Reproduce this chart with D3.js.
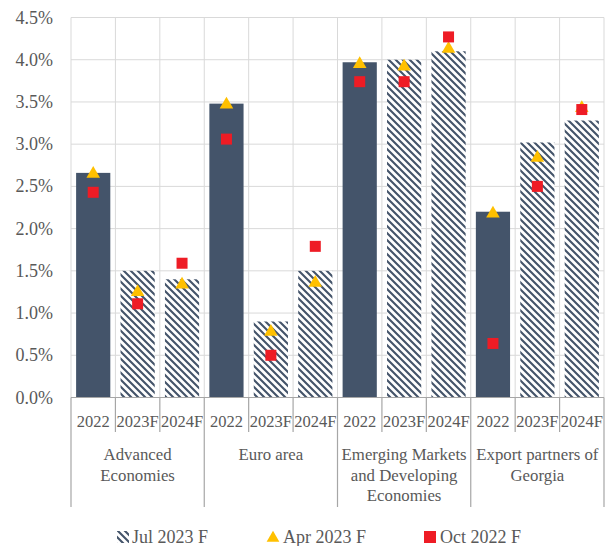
<!DOCTYPE html>
<html>
<head>
<meta charset="utf-8">
<script src="https://cdn.jsdelivr.net/npm/d3@7"></script>
<style>
  html, body { margin: 0; padding: 0; background: #fff; }
  svg { display: block; }
  text { font-family: "Liberation Serif", "Times New Roman", serif; fill: #595959; }
</style>
</head>
<body>
<svg id="chart" width="609" height="546"></svg>
<script>
// ---- data ----
const groups = [
  ["Advanced", "Economies"],
  ["Euro area"],
  ["Emerging Markets", "and Developing", "Economies"],
  ["Export partners of", "Georgia"]
];
const years = ["2022", "2023F", "2024F"];
const jul2023 = [2.66, 1.50, 1.40, 3.48, 0.90, 1.50, 3.97, 4.00, 4.10, 2.20, 3.02, 3.28];
const apr2023 = [2.66, 1.26, 1.35, 3.48, 0.79, 1.37, 3.96, 3.93, 4.14, 2.19, 2.85, 3.44];
const oct2022 = [2.43, 1.11, 1.59, 3.06, 0.50, 1.79, 3.74, 3.74, 4.27, 0.64, 2.50, 3.41];
const yTicks = [0, 0.5, 1.0, 1.5, 2.0, 2.5, 3.0, 3.5, 4.0, 4.5];
const legendLabels = ["Jul 2023 F", "Apr 2023 F", "Oct 2022 F"];

// ---- layout ----
const svg = d3.select("#chart");
const pLeft = 71, pRight = 604, pTop = 17.5, pBottom = 397.5;
const barColor = "#44546a", triColor = "#FFC000", sqColor = "#EE1C25";
const gridColor = "#d9d9d9", axisColor = "#a6a6a6";

const slots = [];
groups.forEach((g, gi) => years.forEach((yr, yi) => slots.push({gi, yi, key: gi + "-" + yi, year: yr})));

const x = d3.scaleBand().domain(slots.map(d => d.key)).range([pLeft, pRight]).padding(0);
const y = d3.scaleLinear().domain([0, 4.5]).range([pBottom, pTop]);
const bw = x.bandwidth() * 0.77;

// pattern
const P = 7;
const defs = svg.append("defs");
const pat = defs.append("pattern").attr("id", "hatch").attr("patternUnits", "userSpaceOnUse")
  .attr("width", P).attr("height", P);
pat.append("rect").attr("width", P).attr("height", P).attr("fill", "#fff");
pat.append("path").attr("d", `M-1,-1 L${P+1},${P+1} M${-P-1},-1 L1,${P+1} M${P-1},-1 L${2*P+1},${P+1}`)
  .attr("stroke", barColor).attr("stroke-width", 2.1);

// gridlines
svg.append("g").selectAll("line").data(yTicks).join("line")
  .attr("x1", pLeft).attr("x2", pRight).attr("y1", d => y(d)).attr("y2", d => y(d))
  .attr("stroke", gridColor).attr("stroke-width", 1);
const vLines = slots.map(d => x(d.key)).concat([pRight]);
svg.append("g").selectAll("line").data(vLines).join("line")
  .attr("x1", d => d).attr("x2", d => d).attr("y1", pTop).attr("y2", pBottom)
  .attr("stroke", gridColor).attr("stroke-width", 1);

// y axis labels
svg.append("g").selectAll("text").data(yTicks).join("text")
  .attr("x", 53).attr("y", d => y(d) + 6)
  .attr("text-anchor", "end").attr("font-size", 18)
  .text(d => d.toFixed(1) + "%");

// bars
svg.append("g").selectAll("rect").data(slots).join("rect")
  .attr("x", d => x(d.key) + (x.bandwidth() - bw) / 2)
  .attr("width", bw)
  .attr("y", (d, i) => y(jul2023[i]))
  .attr("height", (d, i) => y(0) - y(jul2023[i]))
  .attr("fill", d => d.yi === 0 ? barColor : "url(#hatch)");

// triangles
const tri = d3.symbol().type(d3.symbolTriangle).size(80);
svg.append("g").selectAll("path").data(slots).join("path")
  .attr("d", tri)
  .attr("transform", (d, i) => `translate(${x(d.key) + x.bandwidth() / 2},${y(apr2023[i]) + 1})`)
  .attr("fill", triColor);

// squares
const sq = 11;
svg.append("g").selectAll("rect").data(slots).join("rect")
  .attr("x", d => x(d.key) + x.bandwidth() / 2 - sq / 2)
  .attr("y", (d, i) => y(oct2022[i]) - sq / 2)
  .attr("width", sq).attr("height", sq)
  .attr("fill", sqColor);

// category axis
const ax = svg.append("g");
ax.append("line").attr("x1", pLeft).attr("x2", pRight).attr("y1", pBottom).attr("y2", pBottom)
  .attr("stroke", axisColor).attr("stroke-width", 1.2);
slots.forEach(d => {
  const xl = x(d.key);
  const long = d.yi === 0;
  ax.append("line").attr("x1", xl).attr("x2", xl).attr("y1", pBottom).attr("y2", long ? 507 : 432)
    .attr("stroke", axisColor).attr("stroke-width", 1.2);
  ax.append("text").attr("x", xl + x.bandwidth() / 2).attr("y", 426.5)
    .attr("text-anchor", "middle").attr("font-size", 16.5).text(d.year);
});
ax.append("line").attr("x1", pRight).attr("x2", pRight).attr("y1", pBottom).attr("y2", 507)
  .attr("stroke", axisColor).attr("stroke-width", 1.2);
groups.forEach((g, gi) => {
  const cx = x(gi + "-1") + x.bandwidth() / 2;
  g.forEach((line, li) => {
    ax.append("text").attr("x", cx).attr("y", 460 + li * 20.5)
      .attr("text-anchor", "middle").attr("font-size", 16.8).text(line);
  });
});

// legend
const lg = svg.append("g");
const ly = 537;
lg.append("rect").attr("x", 117).attr("y", ly - 6).attr("width", 12).attr("height", 12).attr("fill", "url(#hatch)");
lg.append("text").attr("x", 132).attr("y", ly + 6).attr("font-size", 18).text(legendLabels[0]);
lg.append("path").attr("d", d3.symbol().type(d3.symbolTriangle).size(70))
  .attr("transform", `translate(273,${ly + 1})`).attr("fill", triColor);
lg.append("text").attr("x", 283).attr("y", ly + 6).attr("font-size", 18).text(legendLabels[1]);
lg.append("rect").attr("x", 424).attr("y", ly - 6).attr("width", 12).attr("height", 12).attr("fill", sqColor);
lg.append("text").attr("x", 440).attr("y", ly + 6).attr("font-size", 18).text(legendLabels[2]);
</script>
</body>
</html>
